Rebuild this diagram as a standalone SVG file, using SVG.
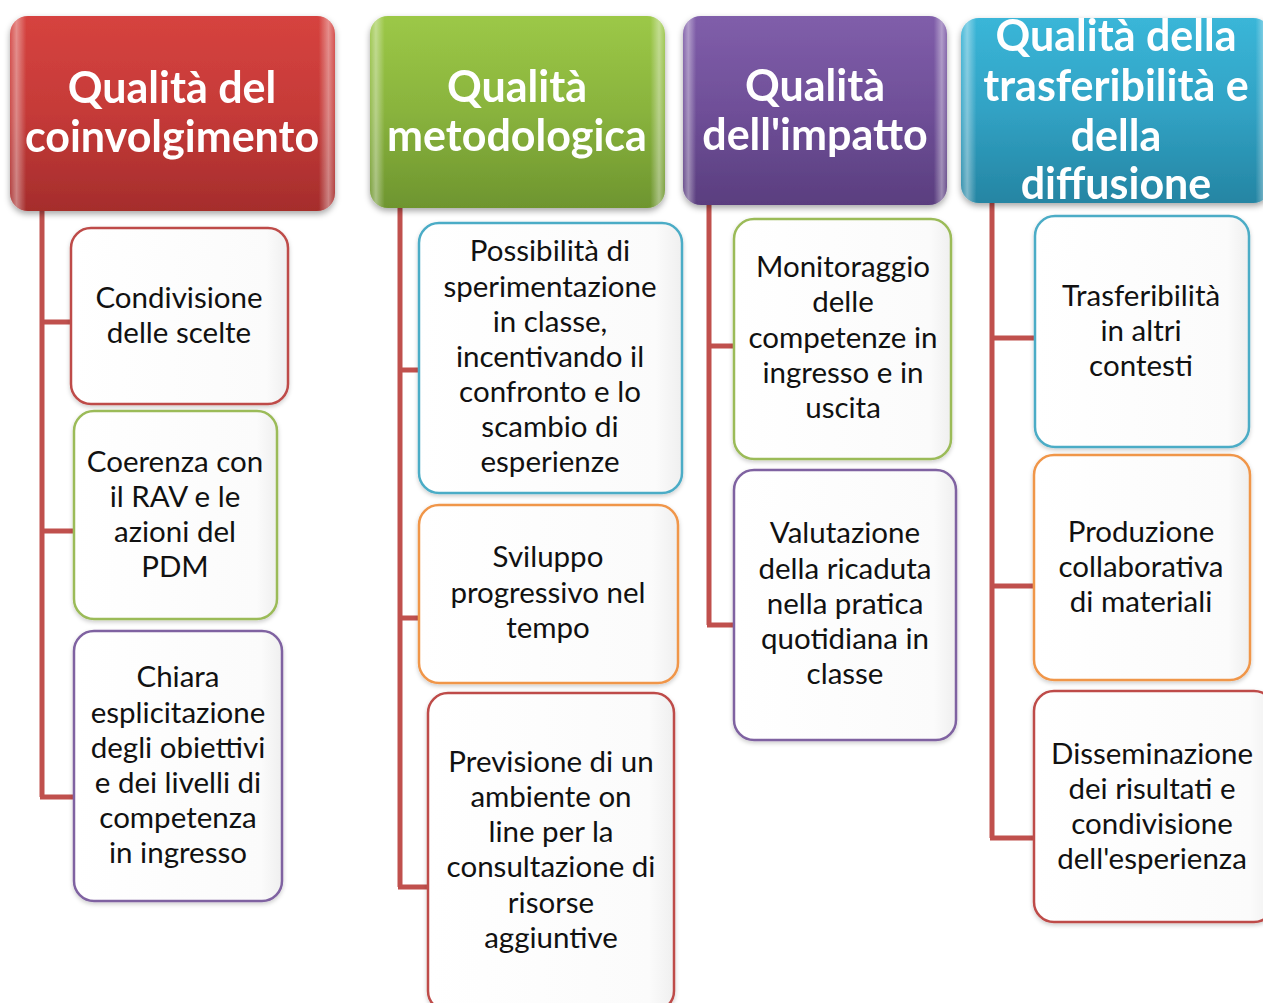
<svg xmlns="http://www.w3.org/2000/svg" width="1263" height="1003" viewBox="0 0 1263 1003">
<defs>
<filter id="sh" x="-10%" y="-10%" width="120%" height="125%">
<feDropShadow dx="0" dy="3" stdDeviation="3" flood-color="#000" flood-opacity="0.35"/>
</filter>
<filter id="sh2" x="-10%" y="-10%" width="120%" height="120%">
<feDropShadow dx="0" dy="2" stdDeviation="2" flood-color="#000" flood-opacity="0.2"/>
</filter>
<linearGradient id="gRed" x1="0" y1="0" x2="0" y2="1">
<stop offset="0" stop-color="#D6433F"/><stop offset="0.5" stop-color="#C53A38"/><stop offset="1" stop-color="#A52D2C"/>
</linearGradient>
<linearGradient id="gGreen" x1="0" y1="0" x2="0" y2="1">
<stop offset="0" stop-color="#9CC847"/><stop offset="0.5" stop-color="#89B33D"/><stop offset="1" stop-color="#6E952F"/>
</linearGradient>
<linearGradient id="gPurple" x1="0" y1="0" x2="0" y2="1">
<stop offset="0" stop-color="#805EAA"/><stop offset="0.5" stop-color="#6F4F98"/><stop offset="1" stop-color="#5A3E7F"/>
</linearGradient>
<linearGradient id="gTeal" x1="0" y1="0" x2="0" y2="1">
<stop offset="0" stop-color="#3AB6D8"/><stop offset="0.5" stop-color="#31A2C4"/><stop offset="1" stop-color="#2585A3"/>
</linearGradient>
<linearGradient id="gBox" x1="0" y1="0" x2="1" y2="0">
<stop offset="0" stop-color="#FFFFFF"/><stop offset="0.9" stop-color="#FBFBFB"/><stop offset="1" stop-color="#EFEFEF"/>
</linearGradient>
<linearGradient id="gHi" x1="0" y1="0" x2="1" y2="0">
<stop offset="0" stop-color="#fff" stop-opacity="0.1"/><stop offset="0.02" stop-color="#fff" stop-opacity="0.4"/><stop offset="0.05" stop-color="#fff" stop-opacity="0"/><stop offset="0.95" stop-color="#fff" stop-opacity="0"/><stop offset="0.98" stop-color="#fff" stop-opacity="0.4"/><stop offset="1" stop-color="#fff" stop-opacity="0.1"/>
</linearGradient>
</defs>
<style>
.hd{font-family:Lato,"Open Sans","Liberation Sans",sans-serif;font-weight:bold;font-size:43px;fill:#fff;text-anchor:middle}
.bx{font-family:Lato,"Open Sans","Liberation Sans",sans-serif;font-size:29.5px;fill:#111;text-anchor:middle}
.conn{stroke:#C0504D;stroke-width:5;fill:none}
.box{fill:url(#gBox);stroke-width:2.5;filter:url(#sh2)}
.r{stroke:#BE4B48}.g{stroke:#9BBB59}.p{stroke:#7F62A1}.t{stroke:#4BACC6}.o{stroke:#F0964A}
</style>
<rect width="1263" height="1003" fill="#fff"/>

<g id="connectors">
<path class="conn" d="M42 211 V797 M40 322 H72 M40 531 H75 M40 797 H75"/>
<path class="conn" d="M400 208 V887 M398 370 H420 M398 618 H420 M398 887 H429"/>
<path class="conn" d="M709 205 V625 M707 346 H735 M707 625 H735"/>
<path class="conn" d="M992 203 V838 M990 338 H1036 M990 586 H1035 M990 838 H1035"/>
</g>

<g id="h1" filter="url(#sh)">
<rect x="10" y="16" width="325" height="195" rx="18" fill="url(#gRed)"/>
<rect x="10" y="16" width="325" height="195" rx="18" fill="url(#gHi)"/>
<text class="hd" x="172" y="103">Qualità del</text>
<text class="hd" x="172" y="152">coinvolgimento</text>
</g>
<g id="h2" filter="url(#sh)">
<rect x="370" y="16" width="295" height="192" rx="18" fill="url(#gGreen)"/>
<rect x="370" y="16" width="295" height="192" rx="18" fill="url(#gHi)"/>
<text class="hd" x="517" y="102">Qualità</text>
<text class="hd" x="517" y="151">metodologica</text>
</g>
<g id="h3" filter="url(#sh)">
<rect x="683" y="16" width="264" height="189" rx="18" fill="url(#gPurple)"/>
<rect x="683" y="16" width="264" height="189" rx="18" fill="url(#gHi)"/>
<text class="hd" x="815" y="101">Qualità</text>
<text class="hd" x="815" y="150">dell'impatto</text>
</g>
<g id="h4" filter="url(#sh)">
<rect x="961" y="18" width="310" height="185" rx="18" fill="url(#gTeal)"/>
<rect x="961" y="18" width="310" height="185" rx="18" fill="url(#gHi)"/>
<text class="hd" x="1116" y="51">Qualità della</text>
<text class="hd" x="1116" y="101">trasferibilità e</text>
<text class="hd" x="1116" y="151">della</text>
<text class="hd" x="1116" y="199">diffusione</text>
</g>

<g id="n1a"><rect class="box r" x="71" y="228" width="217" height="176" rx="20"/>
<text class="bx" x="179" y="308">Condivisione</text><text class="bx" x="179" y="343">delle scelte</text></g>
<g id="n1b"><rect class="box g" x="74" y="411" width="203" height="208" rx="20"/>
<text class="bx" x="175" y="472">Coerenza con</text><text class="bx" x="175" y="507">il RAV e le</text><text class="bx" x="175" y="542">azioni del</text><text class="bx" x="175" y="577">PDM</text></g>
<g id="n1c"><rect class="box p" x="74" y="631" width="208" height="270" rx="20"/>
<text class="bx" x="178" y="687">Chiara</text><text class="bx" x="178" y="723">esplicitazione</text><text class="bx" x="178" y="758">degli obiettivi</text><text class="bx" x="178" y="793">e dei livelli di</text><text class="bx" x="178" y="828">competenza</text><text class="bx" x="178" y="863">in ingresso</text></g>

<g id="n2a"><rect class="box t" x="419" y="223" width="263" height="270" rx="20"/>
<text class="bx" x="550" y="261">Possibilità di</text><text class="bx" x="550" y="297">sperimentazione</text><text class="bx" x="550" y="332">in classe,</text><text class="bx" x="550" y="367">incentivando il</text><text class="bx" x="550" y="402">confronto e lo</text><text class="bx" x="550" y="437">scambio di</text><text class="bx" x="550" y="472">esperienze</text></g>
<g id="n2b"><rect class="box o" x="419" y="505" width="259" height="178" rx="20"/>
<text class="bx" x="548" y="567">Sviluppo</text><text class="bx" x="548" y="603">progressivo nel</text><text class="bx" x="548" y="638">tempo</text></g>
<g id="n2c"><rect class="box r" x="428" y="693" width="246" height="318" rx="20"/>
<text class="bx" x="551" y="772">Previsione di un</text><text class="bx" x="551" y="807">ambiente on</text><text class="bx" x="551" y="842">line per la</text><text class="bx" x="551" y="877">consultazione di</text><text class="bx" x="551" y="913">risorse</text><text class="bx" x="551" y="948">aggiuntive</text></g>

<g id="n3a"><rect class="box g" x="734" y="219" width="217" height="240" rx="20"/>
<text class="bx" x="843" y="277">Monitoraggio</text><text class="bx" x="843" y="312">delle</text><text class="bx" x="843" y="348">competenze in</text><text class="bx" x="843" y="383">ingresso e in</text><text class="bx" x="843" y="418">uscita</text></g>
<g id="n3b"><rect class="box p" x="734" y="470" width="222" height="270" rx="20"/>
<text class="bx" x="845" y="543">Valutazione</text><text class="bx" x="845" y="579">della ricaduta</text><text class="bx" x="845" y="614">nella pratica</text><text class="bx" x="845" y="649">quotidiana in</text><text class="bx" x="845" y="684">classe</text></g>

<g id="n4a"><rect class="box t" x="1035" y="216" width="214" height="231" rx="20"/>
<text class="bx" x="1141" y="306">Trasferibilità</text><text class="bx" x="1141" y="341">in altri</text><text class="bx" x="1141" y="376">contesti</text></g>
<g id="n4b"><rect class="box o" x="1034" y="455" width="216" height="225" rx="20"/>
<text class="bx" x="1141" y="542">Produzione</text><text class="bx" x="1141" y="577">collaborativa</text><text class="bx" x="1141" y="612">di materiali</text></g>
<g id="n4c"><rect class="box r" x="1034" y="691" width="240" height="231" rx="20"/>
<text class="bx" x="1152" y="764">Disseminazione</text><text class="bx" x="1152" y="799">dei risultati e</text><text class="bx" x="1152" y="834">condivisione</text><text class="bx" x="1152" y="869">dell'esperienza</text></g>
</svg>
